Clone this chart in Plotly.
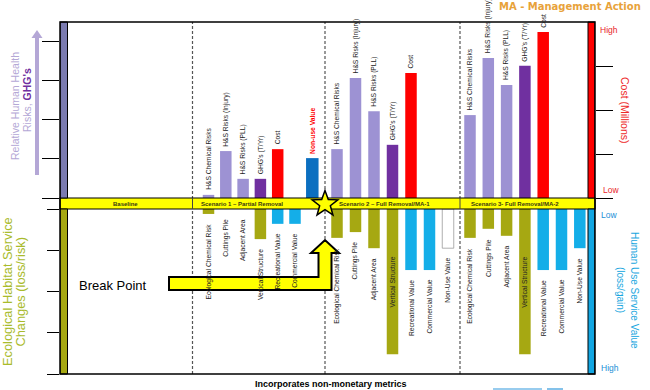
import math
import plotly.graph_objects as go

# ---------------- data ----------------
baseline_label = "Baseline"
scenario_names = ["Scenario 1 – Partial Removal",
                  "Scenario 2 – Full Removal/MA-1",
                  "Scenario 3- Full Removal/MA-2"]

risk_metrics = ["H&S Chemical Risks", "H&S Risks (Injury)", "H&S Risks (PLL)"]
s1_risk = [0.08, 1.20, 0.49]
s2_risk = [1.25, 3.07, 2.22]
s3_risk = [2.12, 3.58, 2.89]

ghg_label = "GHG's (T/Yr)"
ghg = [0.49, 1.36, 3.38]

cost_label = "Cost"
cost = [1.11, 2.84, 3.77]          # on the Cost (Millions) scale

nonuse_gain_label = "Non-use Value"
s1_nonuse_gain = 1.02

eco_metrics = ["Ecological Chemical Risk", "Cuttings Pile", "Adjacent Area", "Vertical Structure"]
s1_eco = [-0.12, 0.0, 0.0, -0.73]
s2_eco = [-0.70, -0.56, -0.95, -3.52]
s3_eco = [-0.70, -0.48, -0.65, -3.52]

use_metrics = ["Recreational Value", "Commercial Value", "Non-Use Value"]
s1_use = [-0.36, -0.36, None]
s2_use = [-1.48, -1.48, -0.95]
s3_use = [-1.48, -1.48, -0.95]
s2_nonuse_undetermined = True

upper_ticks = [0, 1, 2, 3, 4]
lower_ticks = [0, -1, -2, -3, -4]
cost_ticks = [0, 1, 2, 3]
use_ticks = [0, -1, -2, -3]

# ---------------- layout / style constants ----------------
L, T, W, H = 60, 22, 535, 352
def px(x):
    return (x - L) / W
def py(y):
    return (T + H - y) / H

col_x0 = [208.5, 337.0, 470.0]
col_step = [17.3, 18.5, 18.3]
def col(s, i):
    return col_x0[s] + i * col_step[s]

BAR_W = 11.5
C_HS = "#9d92d3"
C_GHG = "#7030a0"
C_COST = "#ff0000"
C_NONUSE_UP = "#0b6fc0"
C_ECO = "#a6a812"
C_USE = "#14aee8"
LABEL_FONT = dict(family="Liberation Sans, Arial, sans-serif", size=6.7, color="#222")

risk_sets = [s1_risk, s2_risk, s3_risk]
eco_sets = [s1_eco, s2_eco, s3_eco]
use_sets = [s1_use, s2_use, s3_use]

fig = go.Figure()
annotations = []

def up_label(x, y, text, yref="y", color="#222", bold=False):
    annotations.append(dict(x=x, y=y, xref="x", yref=yref, text=("<b>%s</b>" % text) if bold else text,
                            textangle=-90, showarrow=False, xanchor="center", yanchor="bottom",
                            yshift=2.5, font=dict(LABEL_FONT, color=color)))

def down_label(x, y, text, shift=-8):
    annotations.append(dict(x=x, y=y, xref="x", yref="y2", text=text, textangle=-90,
                            showarrow=False, xanchor="center", yanchor="top", yshift=shift,
                            font=LABEL_FONT))

# upper H&S risk bars
hx, hy = [], []
for s in range(3):
    for i, v in enumerate(risk_sets[s]):
        hx.append(col(s, i)); hy.append(v)
        up_label(col(s, i), v, risk_metrics[i])
fig.add_trace(go.Bar(x=hx, y=hy, width=BAR_W, marker=dict(color=C_HS, line_width=0), yaxis="y"))

# GHG bars
gx = [col(s, 3) for s in range(3)]
fig.add_trace(go.Bar(x=gx, y=ghg, width=BAR_W, marker=dict(color=C_GHG, line_width=0), yaxis="y"))
for s in range(3):
    up_label(gx[s], ghg[s], ghg_label)

# Non-use gain (scenario 1)
nx = col(0, 6)
fig.add_trace(go.Bar(x=[nx], y=[s1_nonuse_gain], width=BAR_W + 1,
                     marker=dict(color=C_NONUSE_UP, line_width=0), yaxis="y"))
up_label(nx, s1_nonuse_gain, nonuse_gain_label, color="#ff0000", bold=True)

# Cost bars on cost axis
cx = [col(s, 4) for s in range(3)]
fig.add_trace(go.Bar(x=cx, y=cost, width=BAR_W, marker=dict(color=C_COST, line_width=0), yaxis="y3"))
for s in range(3):
    up_label(cx[s], cost[s], cost_label, yref="y3")

# lower ecological bars
ex, ey = [], []
for s in range(3):
    for i, v in enumerate(eco_sets[s]):
        ex.append(col(s, i)); ey.append(v)
        if v < -1.2:
            down_label(col(s, i), -1.1, eco_metrics[i], shift=0)
        else:
            down_label(col(s, i), v, eco_metrics[i])
fig.add_trace(go.Bar(x=ex, y=ey, width=BAR_W, marker=dict(color=C_ECO, line_width=0), yaxis="y2"))

# lower human-use bars
ux, uy, uc, ul = [], [], [], []
for s in range(3):
    for i, v in enumerate(use_sets[s]):
        if v is None:
            continue
        ux.append(col(s, 4 + i)); uy.append(v)
        white = (s == 1 and i == 2 and s2_nonuse_undetermined)
        uc.append("white" if white else C_USE)
        ul.append(0.8 if white else 0)
        down_label(col(s, 4 + i), v, use_metrics[i])
fig.add_trace(go.Bar(x=ux, y=uy, width=BAR_W,
                     marker=dict(color=uc, line=dict(color="#9a9a9a", width=ul)), yaxis="y2"))

# ---------------- shapes ----------------
shapes = []
# dashed dividers
for xd in [192.5, 325, 460]:
    shapes.append(dict(type="line", xref="x", yref="paper", x0=xd, x1=xd, y0=0, y1=1,
                       line=dict(color="#555", width=1.2, dash="3px,2px"), layer="below"))
# baseline band
shapes.append(dict(type="rect", xref="paper", yref="paper", x0=0, x1=1, y0=py(209), y1=py(198),
                   fillcolor="#ffff00", line=dict(color="black", width=1.2), layer="above"))
for xd in [192.5, 460]:
    shapes.append(dict(type="line", xref="x", yref="paper", x0=xd, x1=xd, y0=py(209), y1=py(198),
                       line=dict(color="#444", width=1), layer="above"))
# side colour bars
shapes += [
    dict(type="rect", xref="x", yref="paper", x0=60, x1=67.5, y0=py(198), y1=1,
         fillcolor="#7b7bb0", line=dict(color="black", width=1), layer="above"),
    dict(type="rect", xref="x", yref="paper", x0=60, x1=67.5, y0=0, y1=py(209),
         fillcolor=C_ECO, line=dict(color="black", width=1), layer="above"),
    dict(type="rect", xref="x", yref="paper", x0=588, x1=595, y0=py(198), y1=1,
         fillcolor="#ff0000", line=dict(color="black", width=1), layer="above"),
    dict(type="rect", xref="x", yref="paper", x0=588, x1=595, y0=0, y1=py(209),
         fillcolor="#12a6e2", line=dict(color="black", width=1), layer="above"),
]
# frame
shapes.append(dict(type="rect", xref="paper", yref="paper", x0=0, x1=1, y0=0, y1=1,
                   line=dict(color="black", width=1.5), layer="above"))

# break point arrow
bp = [(169, 277), (318.5, 277), (318.5, 253), (311, 253), (325, 240), (339, 253),
      (331.5, 253), (331.5, 290), (169, 290)]
path = "M " + " L ".join("%.2f,%.5f" % (x, py(y)) for x, y in bp) + " Z"
shapes.append(dict(type="path", xref="x", yref="paper", path=path, fillcolor="#ffff00",
                   line=dict(color="black", width=2), layer="above"))

# star
cxs, cys, R, r = 325, 204, 13.5, 5.6
pts = []
for k in range(10):
    ang = math.radians(-90 + 36 * k)
    rad = R if k % 2 == 0 else r
    pts.append((cxs + rad * math.cos(ang), cys + rad * math.sin(ang)))
spath = "M " + " L ".join("%.2f,%.5f" % (x, py(y)) for x, y in pts) + " Z"
shapes.append(dict(type="path", xref="x", yref="paper", path=spath, fillcolor="#ffff00",
                   line=dict(color="black", width=1.5), layer="above"))

# purple up-arrow at left
ap = [(35, 175), (35, 38), (31.5, 38), (37, 30), (42.5, 38), (39, 38), (39, 175)]
apath = "M " + " L ".join("%.5f,%.5f" % (px(x), py(y)) for x, y in ap) + " Z"
shapes.append(dict(type="path", xref="paper", yref="paper", path=apath, fillcolor="#b4a7d6",
                   line=dict(width=0)))

# blue underline fragments at bottom right
for x0, x1 in [(493, 542), (547, 563)]:
    shapes.append(dict(type="line", xref="paper", yref="paper", x0=px(x0), x1=px(x1),
                       y0=py(389), y1=py(389), line=dict(color="#3399dd", width=1.2)))

# ---------------- text ----------------
def txt(x, y, text, size, color, xanchor="center", angle=0, family="Liberation Sans, Arial, sans-serif"):
    annotations.append(dict(x=px(x), y=py(y), xref="paper", yref="paper", text=text, showarrow=False,
                            xanchor=xanchor, yanchor="middle", textangle=angle,
                            font=dict(family=family, size=size, color=color)))

txt(125, 204, "<b>%s</b>" % baseline_label, 6, "#3a3a10")
for xs, name in zip([199, 337, 469], scenario_names):
    txt(xs, 204, "<b>%s</b>" % name, 6, "#3a3a10", xanchor="left")

txt(77, 285, "Break Point", 13, "black", xanchor="left")
txt(570, 7, "<b>MA - Management Action</b>", 10, "#e8a23a", family="DejaVu Sans, Verdana, sans-serif")
txt(331, 384, "<b>Incorporates non-monetary metrics</b>", 9, "black")

txt(15, 106, "Relative Human Health", 10.5, "#b4a7d6", angle=-90)
txt(27, 100, "Risks, <span style='color:#7030a0'><b>GHG's</b></span>", 10.5, "#b4a7d6", angle=-90)
txt(7, 292, "Ecological Habitat Service", 12.8, "#a9bb2b", angle=-90)
txt(19.5, 292, "Changes (loss/risk)", 12.8, "#a9bb2b", angle=-90)

txt(598, 30, "High", 8.5, "#e8242a", xanchor="left")
txt(601, 190, "Low", 8.5, "#e8242a", xanchor="left")
txt(599, 215, "Low", 8.5, "#1a8fd6", xanchor="left")
txt(599, 368, "High", 8.5, "#1a8fd6", xanchor="left")
txt(625, 110, "Cost (Millions)", 10.5, "#ee2a2a", angle=90)
txt(635, 290, "Human Use Service Value", 10, "#1aa7e0", angle=90)
txt(621, 290, "(loss/gain)", 10, "#1aa7e0", angle=90)

# ---------------- axes ----------------
tick_common = dict(ticks="outside", tickcolor="black", tickwidth=1.3, showticklabels=False,
                   showgrid=False, zeroline=False, showline=False, fixedrange=True)
fig.update_layout(
    width=650, height=390, margin=dict(l=L, r=650 - L - W, t=T, b=390 - T - H),
    paper_bgcolor="white", plot_bgcolor="white", showlegend=False, barmode="overlay",
    font=dict(family="Liberation Sans, Arial, sans-serif", size=7, color="#222"),
    xaxis=dict(range=[L, L + W], showgrid=False, zeroline=False, showticklabels=False,
               ticks="", showline=False, anchor="y2", fixedrange=True),
    yaxis=dict(domain=[0.5, 1], range=[0, 4.5], tickvals=upper_ticks, ticklen=17, **tick_common),
    yaxis2=dict(domain=[0, 165 / 352], range=[-4, 0], tickvals=lower_ticks, ticklen=12, **tick_common),
    yaxis3=dict(overlaying="y", side="right", anchor="x", range=[0, 4], tickvals=cost_ticks,
                ticklen=17, **tick_common),
    yaxis4=dict(overlaying="y2", side="right", anchor="x", range=[-4, 0], tickvals=use_ticks,
                ticklen=17, **tick_common),
    shapes=shapes, annotations=annotations,
)

fig.write_html("out.html", config={"displayModeBar": False},
               post_script="document.body.style.margin='0';document.body.style.overflow='hidden';")
